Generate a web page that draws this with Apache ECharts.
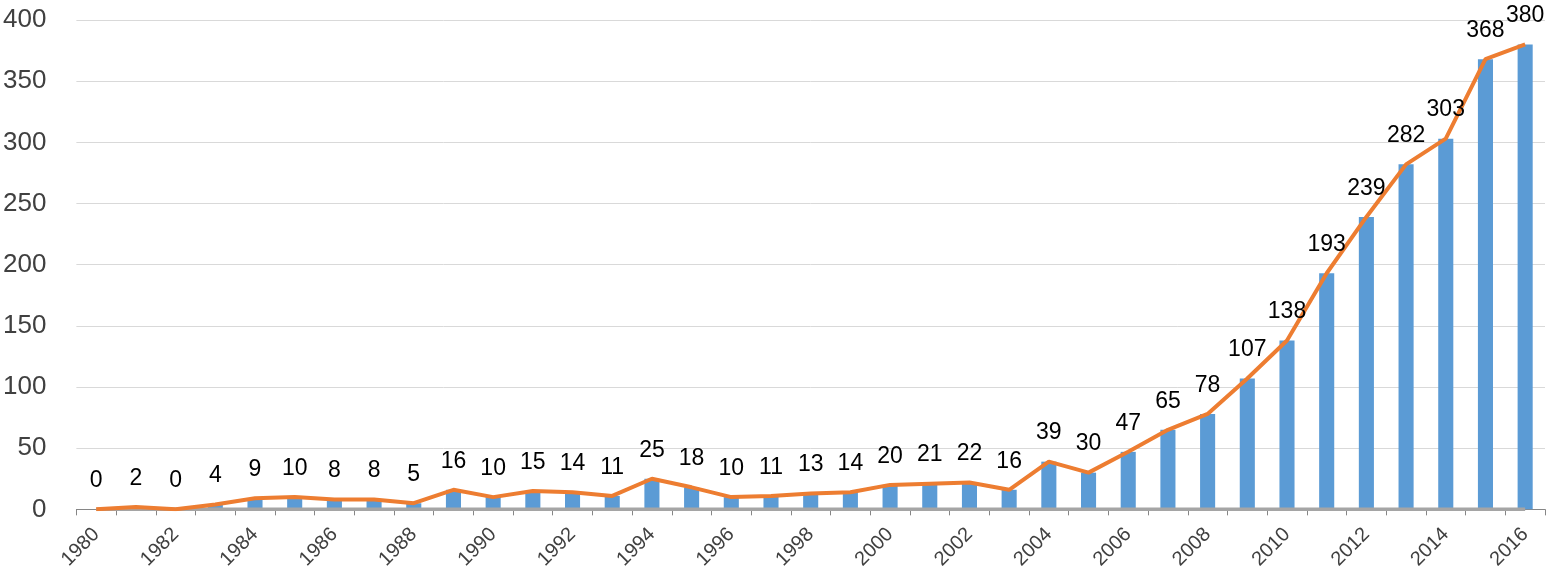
<!DOCTYPE html>
<html>
<head>
<meta charset="utf-8">
<script src="https://cdn.jsdelivr.net/npm/echarts@6/dist/echarts.min.js"></script>
<style>html,body{margin:0;padding:0;background:#fff;}#c{width:1546px;height:572px;}</style>
</head>
<body>
<div id="c"></div>
<script>
const years = ['1980','1981','1982','1983','1984','1985','1986','1987','1988','1989','1990','1991','1992','1993','1994','1995','1996','1997','1998','1999','2000','2001','2002','2003','2004','2005','2006','2007','2008','2009','2010','2011','2012','2013','2014','2015','2016'];
const counts = [0,2,0,4,9,10,8,8,5,16,10,15,14,11,25,18,10,11,13,14,20,21,22,16,39,30,47,65,78,107,138,193,239,282,303,368,380];
const baseline = [0,0,0,0,0,0,0,0,0,0,0,0,0,0,0,0,0,0,0,0,0,0,0,0,0,0,0,0,0,0,0,0,0,0,0,0,0];
const yTicks = [0,50,100,150,200,250,300,350,400];

const font = 'Liberation Sans';
const chart = echarts.init(document.getElementById('c'), null, {renderer:'canvas'});
chart.setOption({
  animation:false,
  backgroundColor:'#fff',
  grid:{left:73, right:1, top:20, bottom:62},
  xAxis:{
    type:'category', data:years, boundaryGap:true,
    axisLine:{lineStyle:{color:'#868686', width:1}},
    axisTick:{show:true, interval:0, length:6, lineStyle:{color:'#868686'}},
    axisLabel:{interval:1, rotate:45, fontSize:20, color:'#404040', fontFamily:font, margin:22}
  },
  yAxis:{
    type:'value', min:yTicks[0], max:yTicks[yTicks.length-1], interval:50,
    axisLine:{show:false}, axisTick:{show:false},
    splitLine:{lineStyle:{color:'#D9D9D9', width:1}},
    axisLabel:{fontSize:26, color:'#404040', fontFamily:font, margin:30}
  },
  series:[
    {type:'bar', data:counts, barWidth:'38%', itemStyle:{color:'#5B9BD5'}, z:2},
    {type:'line', data:baseline, symbol:'none', lineStyle:{color:'#A5A5A5', width:3.5}, z:3},
    {type:'line', data:counts, symbol:'circle', symbolSize:0.1, showSymbol:true,
     itemStyle:{color:'#ED7D31'}, lineStyle:{color:'#ED7D31', width:4}, z:4,
     label:{show:true, position:'top', distance:17, fontSize:23, color:'#000', fontFamily:font}}
  ]
});
</script>
</body>
</html>
